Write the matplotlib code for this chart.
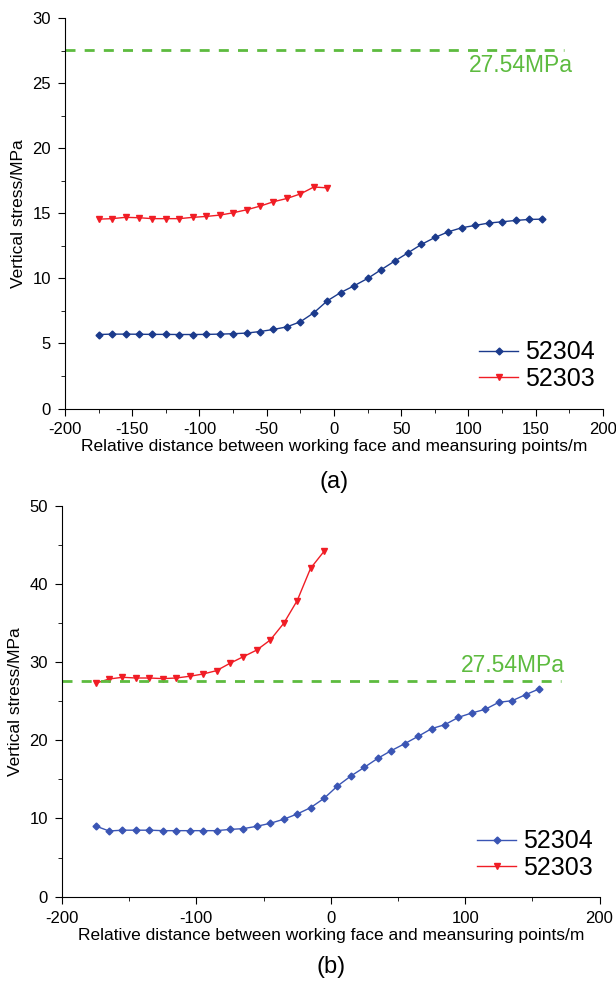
import matplotlib
matplotlib.use("Agg")
import matplotlib.pyplot as plt
from matplotlib.ticker import MultipleLocator

plt.rcParams["font.family"] = ["Liberation Sans", "DejaVu Sans"]
plt.rcParams["axes.unicode_minus"] = False

# ─── data ─────────────────────────────────────────────────────────
x_52304 = list(range(-175, 156, 10))
x_52303 = list(range(-175, -4, 10))

a_52304 = [5.69, 5.72, 5.72, 5.71, 5.70, 5.70, 5.69, 5.69, 5.70, 5.72,
           5.75, 5.80, 5.92, 6.08, 6.28, 6.67, 7.36, 8.28, 8.92, 9.44,
           10.00, 10.67, 11.33, 11.97, 12.62, 13.15, 13.59, 13.90, 14.08,
           14.26, 14.36, 14.46, 14.54, 14.56]
a_52303 = [14.56, 14.60, 14.70, 14.67, 14.60, 14.60, 14.60, 14.70, 14.77,
           14.87, 15.05, 15.28, 15.56, 15.90, 16.15, 16.50, 17.03, 16.97]

b_52304 = [9.04, 8.40, 8.50, 8.50, 8.50, 8.44, 8.44, 8.44, 8.44, 8.44,
           8.60, 8.70, 9.00, 9.38, 9.90, 10.57, 11.38, 12.57, 14.15, 15.43,
           16.54, 17.69, 18.67, 19.56, 20.50, 21.48, 22.00, 22.93, 23.49,
           23.96, 24.85, 25.06, 25.83, 26.56]
b_52303 = [27.28, 27.83, 28.05, 27.96, 27.96, 27.88, 27.96, 28.18, 28.47,
           28.90, 29.84, 30.69, 31.54, 32.82, 34.95, 37.85, 41.99, 44.16]

threshold = 27.54
threshold_label = "27.54MPa"
xlabel = "Relative distance between working face and meansuring points/m"
ylabel = "Vertical stress/MPa"

GREEN = "#5dbb3f"
RED = "#f01d25"


def draw_panel(ax, y4, y3, blue, ylim, ymaj, ymin, xmaj, xmin,
               label_xy, tag, tag_y, leg_anchor):
    ax.plot(x_52304, y4, color=blue, marker="D", markersize=3.5, lw=1.0,
            label="52304")
    ax.plot(x_52303, y3, color=RED, marker="v", markersize=5, lw=1.0,
            label="52303")
    ax.plot([-200, 171], [threshold, threshold], color=GREEN, lw=2,
            linestyle=(0, (3.6, 3.3)))
    ax.text(label_xy[0], label_xy[1], threshold_label, color=GREEN,
            fontsize=16.5, ha="center", va="center")

    ax.set_xlim(-200, 200)
    ax.set_ylim(*ylim)
    ax.xaxis.set_major_locator(MultipleLocator(xmaj))
    ax.xaxis.set_minor_locator(MultipleLocator(xmin))
    ax.yaxis.set_major_locator(MultipleLocator(ymaj))
    ax.yaxis.set_minor_locator(MultipleLocator(ymin))
    for s in ("top", "right"):
        ax.spines[s].set_visible(False)
    ax.tick_params(which="major", direction="out", length=5, pad=5,
                   labelsize=12)
    ax.tick_params(which="minor", direction="out", length=3)
    ax.set_xlabel(xlabel, fontsize=12.5, labelpad=1.5)
    ax.set_ylabel(ylabel, fontsize=12.5, labelpad=5)
    ax.legend(loc="lower right", bbox_to_anchor=leg_anchor, frameon=False,
              fontsize=18, handlelength=1.56, handletextpad=0.28,
              labelspacing=0.1, borderaxespad=0.0, borderpad=0.0)
    ax.text(0.5, tag_y, tag, transform=ax.transAxes, ha="center",
            va="center", fontsize=17)


fig = plt.figure(figsize=(6.16, 9.82), dpi=100)

ax1 = fig.add_axes([0.1055, 0.584, 0.8734, 0.3973])
draw_panel(ax1, a_52304, a_52303, "#1b3a8c", (0, 30), 5, 2.5, 50, 25,
           (139, 26.4), "(a)", -0.188, (0.985, 0.045))

ax2 = fig.add_axes([0.1006, 0.0869, 0.8727, 0.3982])
draw_panel(ax2, b_52304, b_52303, "#3a55b4", (0, 50), 10, 5, 100, 50,
           (135.6, 29.6), "(b)", -0.18, (0.988, 0.043))

fig.savefig("out.png", dpi=100)
